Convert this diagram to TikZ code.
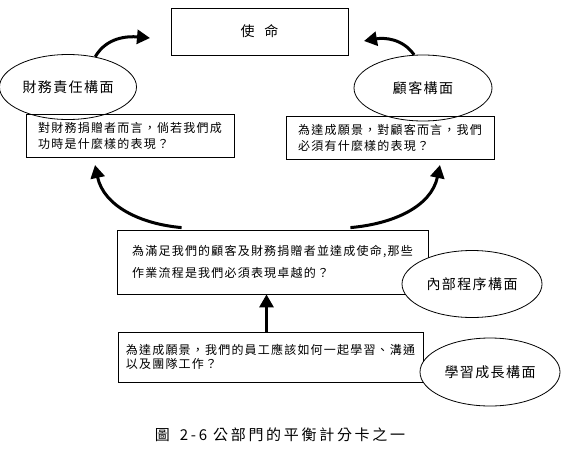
\documentclass[tikz,border=0pt]{standalone}
\usepackage{fontspec}
\newfontfamily\cjk[LetterSpace=10]{Noto Sans CJK TC}
\newfontfamily\capfont[LetterSpace=18]{Noto Sans CJK TC}
\usetikzlibrary{arrows.meta,shapes.geometric}
\tikzset{
  >={Triangle[length=13pt,width=14pt]},
  qbox/.style={draw,line width=0.8pt,minimum width=#1,align=left,
    font=\cjk\fontsize{12}{16}\selectfont},
  qbox/.default=208pt,
  view/.style={ellipse,draw,line width=0.8pt,fill=white,inner sep=0pt,
    minimum width=140pt,minimum height=67pt,font=\cjk\fontsize{14}{16}\selectfont},
  flow/.style={->,line width=3pt},
}

\begin{document}
\begin{tikzpicture}[x=1pt,y=1pt]
  \useasboundingbox (0,0) rectangle (562,-455);
  % perspectives at the top
  \node[view,minimum width=137pt,minimum height=65pt] (fin) at (68,-87) {財務責任構面};
  \node[view,minimum width=138pt,minimum height=66pt] (cust) at (423,-88) {顧客構面};
  \node[draw,line width=0.8pt,minimum width=177pt,minimum height=47pt,
    font=\cjk\fontsize{14}{16}\selectfont] (mission) at (259.5,-31.5) {使\hspace{10pt}命};
  \node[qbox,minimum height=43pt] (finq) at (130,-135.5)
    {對財務捐贈者而言，倘若我們成\\功時是什麼樣的表現？};
  \node[qbox,minimum height=43pt] (custq) at (390,-137.5)
    {為達成願景，對顧客而言，我們\\必須有什麼樣的表現？};
  % process and learning
  \node[qbox=311pt,minimum height=64pt,font=\cjk\fontsize{12}{22}\selectfont] (procq) at (272.5,-262)
    {為滿足我們的顧客及財務捐贈者並達成使命,那些\\作業流程是我們必須表現卓越的？};
  \node[qbox=305pt,minimum height=50pt,font=\cjk\fontsize{12}{14.5}\selectfont] (learnq) at (270.5,-357)
    {為達成願景，我們的員工應該如何一起學習、溝通\\以及團隊工作？};
  \node[view] (proc) at (472,-284) {內部程序構面};
  \node[view,minimum height=68pt] (learn) at (490,-372) {學習成長構面};
  \node[font=\capfont\fontsize{15}{18}\selectfont] (cap) at (280,-435)
    {圖\hspace{10pt}2-6\hspace{6pt}公部門的平衡計分卡之一};
  % arrows
  \coordinate (finTip) at (150,-38);
  \coordinate (custTip) at (364,-41);
  \coordinate (finUp) at (95,-165);
  \coordinate (custUp) at (440,-165);
  \draw[flow] (fin.48) to[out=60,in=175] (finTip);
  \draw[flow] (cust.105) to[out=125,in=10] (custTip);
  \draw[flow] ([xshift=65pt,yshift=2pt]procq.north west) to[out=175,in=-78] (finUp);
  \draw[flow] ([xshift=-78pt,yshift=2pt]procq.north east) to[out=5,in=-102] (custUp);
  \draw[flow] ([xshift=-4pt]learnq.north) -- ([xshift=-4pt]learnq.north |- procq.south);
\end{tikzpicture}
\end{document}
